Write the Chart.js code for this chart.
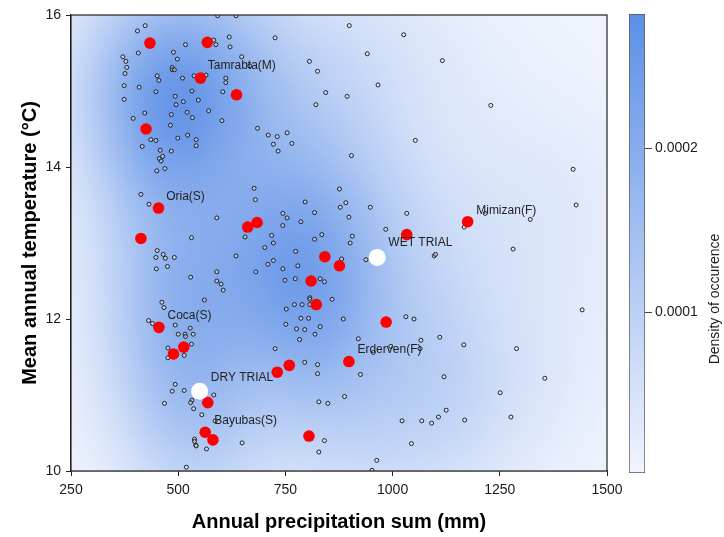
<!DOCTYPE html>
<html lang="en">
<head>
  <meta charset="UTF-8" />
  <title>Climate of sites and provenances</title>
  <script src="https://cdn.jsdelivr.net/npm/chart.js"></script>
  <style>
    html, body { margin: 0; padding: 0; background: #fff; }
    #wrap { position: relative; width: 724px; height: 537px; }
    #main { position: absolute; left: 0; top: 0; }
    #bar { position: absolute; left: 607px; top: 0; }
  </style>
</head>
<body>
<div id="wrap">
  <canvas id="main" width="724" height="537"></canvas>
  <canvas id="bar" width="117" height="537"></canvas>
</div>
<script>
  // occurrence sites (open circles)
  const sitePrecip = [423,405,371,378,380,376,374,374,407,409,395,422,436,448,416,458,484,456,464,460,469,
    517,489,498,486,486,491,451,455,510,537,565,532,448,493,512,547,495,521,484,533,571,482,499,522,542,542,
    602,604,611,611,619,621,588,583,648,667,685,710,592,635,
    899,1026,726,941,1116,806,825,966,844,894,821,754,731,722,765,733,1053,904,1229,1421,
    450,413,432,677,680,590,531,656,702,451,465,448,470,491,635,475,449,709,681,590,529,590,600,605,561,462,467,
    876,796,891,878,948,744,754,818,898,786,744,1033,984,835,818,906,901,718,722,774,881,938,1097,1100,722,779,
    744,749,773,831,841,859,807,807,771,789,807,752,786,804,885,1031,1050,1167,
    1428,1321,1216,1281,1442,
    431,440,493,528,500,516,517,535,531,476,514,476,493,486,514,468,583,532,529,536,555,586,538,538,541,542,566,649,519,
    751,776,795,831,819,783,920,1066,1110,1166,726,1064,996,955,795,825,825,925,1120,888,828,849,1125,1107,1091,
    1068,1022,1168,841,828,1044,963,952,1289,1355,1251,1276];
  const siteTemp = [15.86,15.79,15.45,15.39,15.31,15.23,15.07,14.89,15.50,15.05,14.64,14.71,14.36,14.35,14.27,14.22,14.21,14.11,14.14,14.08,13.98,
    15.61,15.51,15.42,15.31,15.28,15.28,15.20,15.14,15.17,15.20,15.21,15.00,14.99,14.93,14.86,14.88,14.82,14.72,14.69,14.65,14.74,14.55,14.38,14.42,14.36,14.28,
    14.61,14.99,15.17,15.11,15.71,15.58,15.61,15.67,15.45,15.33,14.51,14.42,15.99,15.99,
    15.86,15.74,15.70,15.49,15.40,15.39,15.26,15.08,14.98,14.93,14.82,14.45,14.40,14.30,14.31,14.21,14.35,14.15,14.81,13.97,
    13.95,13.64,13.51,13.72,13.57,13.33,13.07,13.08,12.94,12.90,12.85,12.81,12.80,12.81,12.83,12.69,12.66,12.72,12.62,12.62,12.55,12.50,12.46,12.38,12.25,12.22,12.15,
    13.71,13.54,13.53,13.47,13.47,13.39,13.33,13.40,13.34,13.28,13.23,13.39,13.18,13.11,13.05,13.09,13.00,13.10,13.00,12.89,12.79,12.78,12.83,12.85,12.77,12.70,
    12.66,12.51,12.53,12.53,12.49,12.26,12.28,12.26,12.19,12.19,12.19,12.13,12.01,12.01,12.00,12.03,12.00,13.21,
    13.50,13.31,13.39,12.92,12.12,
    11.98,11.94,11.92,11.88,11.80,11.80,11.77,11.80,11.67,11.62,11.52,11.49,11.14,11.05,11.06,10.89,11.00,10.93,10.90,10.82,10.74,10.66,10.42,10.39,10.34,10.33,10.29,10.37,10.05,
    11.93,11.87,11.86,11.90,11.80,11.73,11.74,11.72,11.76,11.66,11.61,11.61,11.64,11.56,11.43,11.40,11.28,11.27,11.24,10.98,10.91,10.89,10.80,10.71,10.63,
    10.66,10.66,10.67,10.40,10.25,10.36,10.14,10.01,11.61,11.22,11.03,10.71];

  // provenances (red)
  const provPrecip = [434,568,552,636,425,454,413,662,684,842,876,810,822,1033,985,1175,455,513,489,569,563,581,898,759,731,805];
  const provTemp = [15.63,15.64,15.17,14.95,14.50,13.46,13.06,13.21,13.27,12.82,12.70,12.50,12.19,13.11,11.96,13.28,11.89,11.63,11.54,10.90,10.51,10.41,11.44,11.39,11.30,10.46];

  // trials (white)
  const trialPrecip = [964, 550];
  const trialTemp = [12.81, 11.05];

  // text labels
  const labelText = ['Tamrabta(M)', 'Oria(S)', 'Mimizan(F)', 'WET TRIAL', 'Coca(S)', 'Erderven(F)', 'DRY TRIAL', 'Bayubas(S)'];
  const labelPrecip = [569, 472, 1195, 990, 475, 918, 576, 584];
  const labelTemp = [15.33, 13.61, 13.42, 13.01, 12.05, 11.59, 11.23, 10.66];

  const precipTicks = [250, 500, 750, 1000, 1250, 1500];
  const tempTicks = [10, 12, 14, 16];
  const densityTicks = [0.0001, 0.0002];
  const densityMin = 0.000002, densityMax = 0.000282;

  const LOW = [240, 244, 253], HIGH = [92, 143, 230];
  const HX = 115, HY = 0.85; // kernel bandwidths
  const FONT = '"Liberation Sans", Arial, sans-serif';

  function mix(t) {
    t = Math.max(0, Math.min(1, t));
    const c = LOW.map((l, i) => Math.round(l + (HIGH[i] - l) * t));
    return `rgb(${c[0]},${c[1]},${c[2]})`;
  }

  const pts = (xs, ys) => xs.map((v, i) => ({ x: v, y: ys[i] }));

  let densityCache = null;
  const densityPlugin = {
    id: 'density',
    beforeDatasetsDraw(chart) {
      const { ctx, chartArea: a, scales: { x, y } } = chart;
      const cell = 2;
      if (!densityCache) {
        const n = sitePrecip.length;
        const cols = Math.ceil((a.right - a.left) / cell), rows = Math.ceil((a.bottom - a.top) / cell);
        const ex = [], ey = [];
        for (let c = 0; c < cols; c++) {
          const v = x.getValueForPixel(a.left + c * cell + cell / 2);
          ex.push(sitePrecip.map(p => Math.exp(-0.5 * ((v - p) / HX) ** 2)));
        }
        for (let r = 0; r < rows; r++) {
          const v = y.getValueForPixel(a.top + r * cell + cell / 2);
          ey.push(siteTemp.map(p => Math.exp(-0.5 * ((v - p) / HY) ** 2)));
        }
        const f = [];
        let fmax = 0;
        for (let r = 0; r < rows; r++) {
          const row = [];
          for (let c = 0; c < cols; c++) {
            let s = 0;
            for (let i = 0; i < n; i++) s += ex[c][i] * ey[r][i];
            s /= n * 2 * Math.PI * HX * HY;
            row.push(s);
            if (s > fmax) fmax = s;
          }
          f.push(row);
        }
        densityCache = { f, fmax, cols, rows };
      }
      const { f, fmax, cols, rows } = densityCache;
      ctx.save();
      ctx.beginPath();
      ctx.rect(a.left, a.top, a.right - a.left, a.bottom - a.top);
      ctx.clip();
      for (let r = 0; r < rows; r++) {
        for (let c = 0; c < cols; c++) {
          ctx.fillStyle = mix(Math.pow(f[r][c] / fmax, 0.85) * 0.93);
          ctx.fillRect(a.left + c * cell, a.top + r * cell, cell + 0.5, cell + 0.5);
        }
      }
      ctx.restore();
    },
    afterDatasetsDraw(chart) {
      const { ctx, chartArea: a, scales: { x, y } } = chart;
      ctx.save();
      ctx.font = '12px ' + FONT;
      ctx.fillStyle = '#222';
      ctx.textAlign = 'left';
      ctx.textBaseline = 'middle';
      labelText.forEach((t, i) => ctx.fillText(t, x.getPixelForValue(labelPrecip[i]), y.getPixelForValue(labelTemp[i])));
      ctx.strokeStyle = '#222';
      ctx.lineWidth = 1.2;
      ctx.strokeRect(a.left, a.top, a.right - a.left, a.bottom - a.top);
      ctx.restore();
    }
  };

  const axisGrid = { drawOnChartArea: false, drawTicks: true, tickLength: 5, color: '#222', lineWidth: 1 };

  new Chart(document.getElementById('main'), {
    type: 'scatter',
    data: {
      datasets: [
        { label: 'Trials', data: pts(trialPrecip, trialTemp), pointRadius: 8.5, backgroundColor: '#ffffff', borderWidth: 0 },
        { label: 'Provenances', data: pts(provPrecip, provTemp), pointRadius: 5.8, backgroundColor: '#ff0000', borderWidth: 0 },
        { label: 'Sites', data: pts(sitePrecip, siteTemp), pointRadius: 2, backgroundColor: 'rgba(255,255,255,0.35)', borderColor: '#222', borderWidth: 1 }
      ]
    },
    options: {
      responsive: false,
      animation: false,
      events: [],
      layout: { padding: { top: 15, right: 117, left: 0, bottom: 0 } },
      plugins: { legend: { display: false }, tooltip: { enabled: false } },
      scales: {
        x: {
          type: 'linear', min: 250, max: 1500,
          afterBuildTicks: s => { s.ticks = precipTicks.map(v => ({ value: v })); },
          afterFit: s => { s.height = 66; },
          ticks: { callback: v => String(v), font: { family: FONT, size: 14 }, color: '#1a1a1a', padding: 6, maxRotation: 0 },
          grid: axisGrid,
          border: { display: true, color: '#222', width: 1.2 },
          title: { display: true, text: 'Annual precipitation sum (mm)', color: '#000',
            font: { family: FONT, size: 20, weight: 'bold' }, padding: { top: 0, bottom: 3 } }
        },
        y: {
          type: 'linear', min: 10, max: 16,
          afterBuildTicks: s => { s.ticks = tempTicks.map(v => ({ value: v })); },
          afterFit: s => { s.width = 71; },
          ticks: { callback: v => String(v), font: { family: FONT, size: 14 }, color: '#1a1a1a', padding: 5 },
          grid: axisGrid,
          border: { display: true, color: '#222', width: 1.2 },
          title: { display: true, text: 'Mean annual temperature (°C)', color: '#000',
            font: { family: FONT, size: 20, weight: 'bold' }, padding: { top: 18, bottom: 0 } }
        }
      }
    },
    plugins: [densityPlugin]
  });

  // colour key
  const barTitle = {
    id: 'barTitle',
    afterDraw(chart) {
      const { ctx } = chart;
      ctx.save();
      ctx.translate(108, 299);
      ctx.rotate(-Math.PI / 2);
      ctx.font = '14px ' + FONT;
      ctx.fillStyle = '#1a1a1a';
      ctx.textAlign = 'center';
      ctx.textBaseline = 'middle';
      ctx.fillText('Density of occurence', 0, 0);
      ctx.restore();
    }
  };

  new Chart(document.getElementById('bar'), {
    type: 'bar',
    data: {
      labels: [''],
      datasets: [{
        data: [[densityMin, densityMax]],
        backgroundColor: c => {
          const a = c.chart.chartArea;
          if (!a) return mix(0);
          const g = c.chart.ctx.createLinearGradient(0, a.bottom, 0, a.top);
          g.addColorStop(0, mix(0));
          g.addColorStop(1, mix(1));
          return g;
        },
        borderColor: '#555', borderWidth: 1, borderSkipped: false,
        barPercentage: 1, categoryPercentage: 1
      }]
    },
    options: {
      responsive: false,
      animation: false,
      events: [],
      layout: { padding: { left: 22, top: 14, bottom: 64, right: 0 } },
      plugins: { legend: { display: false }, tooltip: { enabled: false } },
      scales: {
        x: { display: false },
        y: {
          position: 'right', min: densityMin, max: densityMax,
          afterBuildTicks: s => { s.ticks = densityTicks.map(v => ({ value: v })); },
          afterFit: s => { s.width = 79; },
          ticks: { callback: v => v.toFixed(4), font: { family: FONT, size: 14 }, color: '#1a1a1a', padding: 3 },
          grid: { drawOnChartArea: false, drawTicks: true, tickLength: 7, color: '#444' },
          border: { display: false }
        }
      }
    },
    plugins: [barTitle]
  });
</script>
</body>
</html>
